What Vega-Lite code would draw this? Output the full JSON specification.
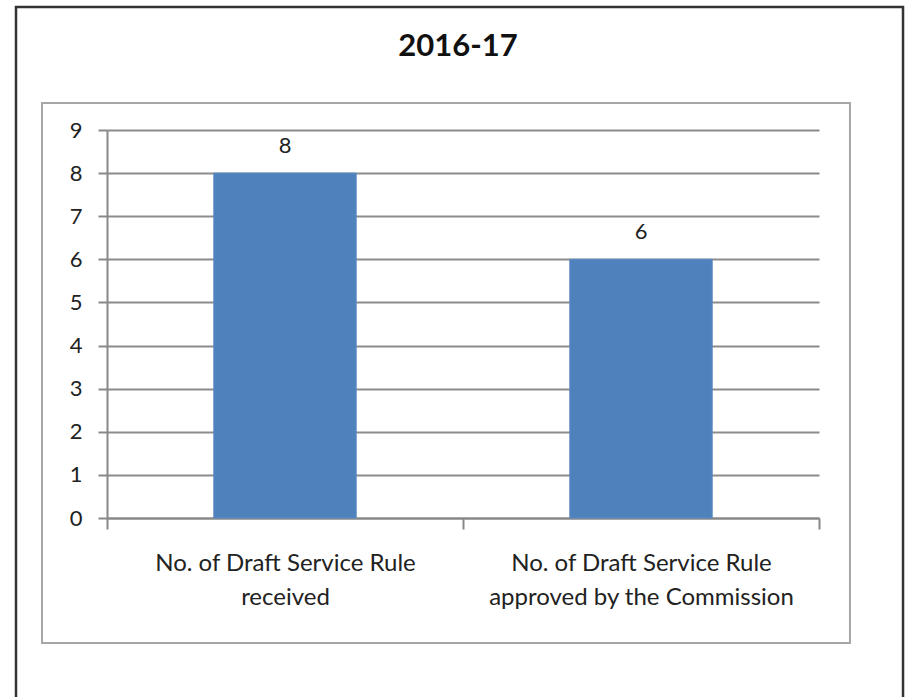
{
  "$schema": "https://vega.github.io/schema/vega-lite/v6.json",
  "width": 712,
  "height": 388,
  "autosize": {"type": "none"},
  "padding": {"left": 107, "top": 130, "right": 91, "bottom": 179},
  "background": "white",
  "config": {"view": {"stroke": null}, "font": "Lato"},
  "title": {
    "text": "2016-17",
    "fontSize": 31,
    "fontWeight": "bold",
    "color": "#111111",
    "anchor": "middle",
    "frame": "group",
    "baseline": "alphabetic",
    "dx": -5,
    "offset": -81
  },
  "resolve": {"scale": {"x": "independent", "y": "independent"}, "axis": {"x": "independent", "y": "independent"}},
  "layer": [
    {
      "data": {"values": [{"frame": "outer"}]},
      "mark": {"type": "rect", "filled": false, "stroke": "#333333", "strokeWidth": 2.5},
      "encoding": {
        "x": {"datum": -0.1278, "type": "quantitative", "scale": {"domain": [0, 1]}, "axis": null},
        "x2": {"datum": 1.118},
        "y": {"datum": 11.853, "type": "quantitative", "scale": {"domain": [0, 9]}, "axis": null},
        "y2": {"datum": -4.34}
      }
    },
    {
      "data": {"values": [{"frame": "inner"}]},
      "mark": {"type": "rect", "filled": false, "stroke": "#a6a6a6", "strokeWidth": 2},
      "encoding": {
        "x": {"datum": -0.0913, "type": "quantitative", "scale": {"domain": [0, 1]}, "axis": null},
        "x2": {"datum": 1.0435},
        "y": {"datum": 9.626, "type": "quantitative", "scale": {"domain": [0, 9]}, "axis": null},
        "y2": {"datum": -2.8995}
      }
    },
    {
      "data": {"values": [
        {"category": "No. of Draft Service Rule received", "count": 8},
        {"category": "No. of Draft Service Rule approved by the Commission", "count": 6}
      ]},
      "encoding": {
        "x": {
          "field": "category",
          "type": "nominal",
          "sort": null,
          "scale": {"paddingInner": 0, "paddingOuter": 0},
          "axis": {
            "title": null,
            "labelAngle": 0,
            "labelFontSize": 24,
            "labelColor": "#222222",
            "labelPadding": 22,
            "labelLineHeight": 34,
            "labelLimit": 400,
            "labelExpr": "datum.value == 'No. of Draft Service Rule received' ? ['No. of Draft Service Rule', 'received'] : datum.value == 'No. of Draft Service Rule approved by the Commission' ? ['No. of Draft Service Rule', 'approved by the Commission'] : ''",
            "tickBand": "extent",
            "tickSize": 11,
            "tickColor": "#888888",
            "tickWidth": 2,
            "domainColor": "#888888",
            "domainWidth": 2
          }
        },
        "y": {
          "field": "count",
          "type": "quantitative",
          "scale": {"domain": [0, 9], "nice": false},
          "axis": {
            "title": null,
            "values": [0, 1, 2, 3, 4, 5, 6, 7, 8, 9],
            "labelFontSize": 22,
            "labelColor": "#222222",
            "labelPadding": 16,
            "tickSize": 9,
            "tickColor": "#888888",
            "tickWidth": 2,
            "domainColor": "#888888",
            "domainWidth": 2,
            "grid": true,
            "gridColor": "#8c8c8c",
            "gridWidth": 2
          }
        }
      },
      "layer": [
        {"mark": {"type": "bar", "color": "#4f81bd", "stroke": "#5b8bc4", "strokeWidth": 1, "width": {"band": 0.4}}},
        {
          "mark": {"type": "text", "fontSize": 22, "color": "#222222", "baseline": "middle", "dy": -27},
          "encoding": {"text": {"field": "count", "type": "quantitative"}}
        }
      ]
    }
  ]
}
